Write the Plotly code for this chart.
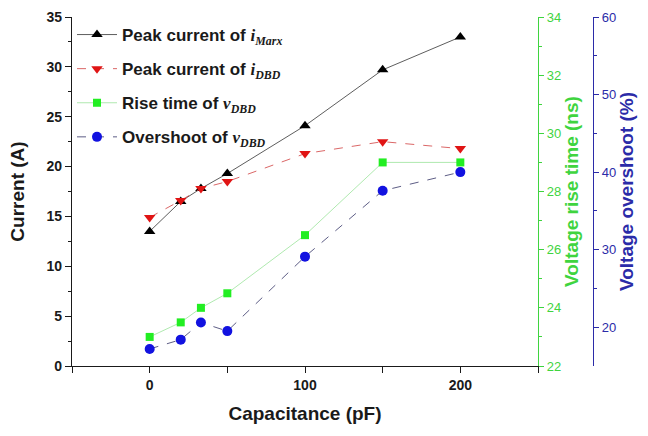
import plotly.graph_objects as go

capacitance = [0, 20, 33, 50, 100, 150, 200]
peak_marx = [13.5, 16.5, 17.8, 19.3, 24.1, 29.7, 33.0]
peak_dbd = [14.9, 16.6, 17.8, 18.5, 21.3, 22.5, 21.8]
rise_time = [23.0, 23.5, 24.0, 24.5, 26.5, 29.0, 29.0]
overshoot = [17.2, 18.4, 20.6, 19.5, 29.1, 37.6, 40.0]

FONT = "Liberation Sans, Arial, sans-serif"
SERIF = "Liberation Serif, Times New Roman, serif"
GREEN = "#3fd43f"
BLUE = "#2b2ba8"
DARK = "#1a1a1a"

def lab(prefix, var, sub):
    return (prefix + f'<span style="font-family:{SERIF}"><i>{var}</i>'
            f'<sub><i>{sub}</i></sub></span>')

fig = go.Figure()
fig.add_trace(go.Scatter(
    x=capacitance, y=peak_marx, name=lab("Peak current of ", "i", "Marx"),
    legendgroup="a",
    mode="lines+markers", line=dict(color="#333333", width=0.8),
    marker=dict(symbol="triangle-up", size=10, color="black"), yaxis="y"))
fig.add_trace(go.Scatter(
    x=capacitance, y=peak_dbd, name=lab("Peak current of ", "i", "DBD"),
    legendgroup="b",
    mode="lines+markers", line=dict(color="#d04040", width=0.8, dash="dash"),
    marker=dict(symbol="triangle-down", size=10, color="#e01414"), yaxis="y"))
fig.add_trace(go.Scatter(
    x=capacitance, y=rise_time, name=lab("Rise time of ", "v", "DBD"),
    legendgroup="c",
    mode="lines+markers", line=dict(color="#9be39b", width=0.8),
    marker=dict(symbol="square", size=8, color="#22ee22"), yaxis="y2"))
fig.add_trace(go.Scatter(
    x=capacitance, y=overshoot, name=lab("Overshoot of ", "v", "DBD"),
    legendgroup="d",
    mode="lines+markers", line=dict(color="#333366", width=0.8, dash="dash"),
    marker=dict(symbol="circle", size=10, color="#1212e0"), yaxis="y3"))

fig.update_layout(
    width=648, height=436,
    margin=dict(l=72, r=10, t=17, b=70),
    paper_bgcolor="white", plot_bgcolor="white",
    font=dict(family=FONT, color=DARK),
    showlegend=True,
    legend=dict(x=0.0, y=1.0, xanchor="left", yanchor="top",
                bgcolor="rgba(0,0,0,0)", borderwidth=0,
                font=dict(family=FONT, size=17, color=DARK, weight="bold"),
                itemwidth=40, tracegroupgap=9),
    xaxis=dict(domain=[0, 466 / 566], range=[-50, 250],
               tickvals=[0, 100, 200], ticks="outside", ticklen=6,
               tickcolor=DARK, showline=True, linecolor=DARK, linewidth=1.2,
               showgrid=False, zeroline=False,
               tickfont=dict(family=FONT, size=14, color=DARK, weight="bold"),
               minor=dict(tickvals=[-50, 50, 150, 250], ticks="outside", ticklen=6, tickcolor=DARK),
               title=dict(text="Capacitance (pF)", standoff=14,
                          font=dict(family=FONT, size=19, color=DARK, weight="bold"))),
    xaxis2=dict(domain=[0, 466 / 566], range=[-50, 250], overlaying="x", side="top",
                anchor="y", tickvals=[-50, 0, 50, 100, 150, 200, 250],
                ticks="inside", ticklen=6, tickcolor=DARK, showticklabels=False,
                showline=True, linecolor=DARK, linewidth=1.2,
                showgrid=False, zeroline=False),
    yaxis=dict(range=[0, 35], dtick=5, ticks="outside", ticklen=6,
               tickcolor=DARK, showline=True, linecolor=DARK, linewidth=1.2,
               showgrid=False, zeroline=False,
               tickfont=dict(family=FONT, size=14, color=DARK, weight="bold"),
               minor=dict(dtick=2.5, ticks="outside", ticklen=3, tickcolor=DARK),
               title=dict(text="Current (A)", standoff=16,
                          font=dict(family=FONT, size=19, color=DARK, weight="bold"))),
    yaxis2=dict(range=[22, 34], dtick=2, overlaying="y", side="right", anchor="x",
                ticks="outside", ticklen=5, tickcolor=GREEN,
                showline=True, linecolor=GREEN, linewidth=1.2,
                showgrid=False, zeroline=False,
                tickfont=dict(family=FONT, size=13, color=GREEN),
                minor=dict(dtick=1, ticks="outside", ticklen=3, tickcolor=GREEN),
                title=dict(text="Voltage rise time (ns)", standoff=2,
                           font=dict(family=FONT, size=19, color=GREEN, weight="bold"))),
    yaxis3=dict(range=[15, 60], tickvals=[20, 30, 40, 50, 60], overlaying="y",
                side="right", anchor="free", position=(593 - 72) / 566,
                ticks="outside", ticklen=5, tickcolor=BLUE,
                showline=True, linecolor=BLUE, linewidth=1.2,
                showgrid=False, zeroline=False,
                tickfont=dict(family=FONT, size=13, color=BLUE),
                minor=dict(tickvals=[25, 35, 45, 55], ticks="outside", ticklen=3, tickcolor=BLUE),
                title=dict(text="Voltage overshoot (%)", standoff=2,
                           font=dict(family=FONT, size=19, color=BLUE, weight="bold"))),
)

fig.write_html("out.html")
